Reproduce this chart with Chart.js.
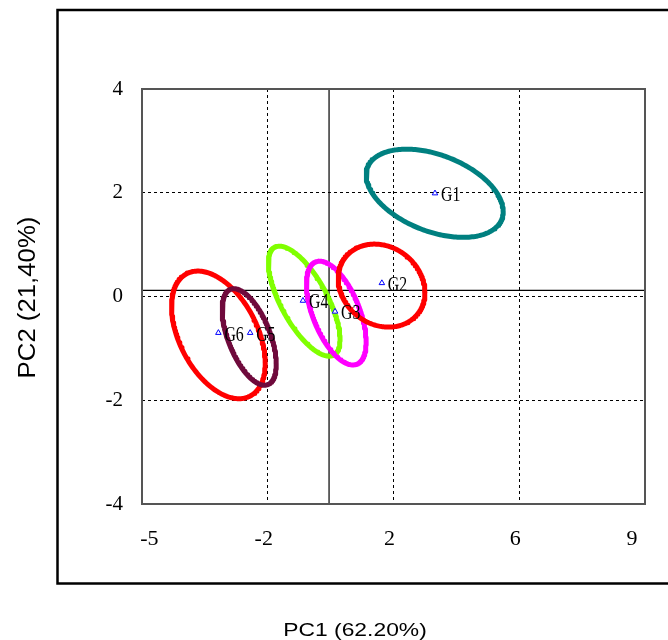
<!DOCTYPE html>
<html>
<head>
<meta charset="utf-8">
<script src="https://cdn.jsdelivr.net/npm/chart.js@4"></script>
<style>
  html, body { margin: 0; padding: 0; background: #fff; }
  canvas { display: block; }
</style>
</head>
<body>
<canvas id="pcaChart" width="668" height="640"></canvas>
<script>
// group centroids on PC1 / PC2
const groupNames = ['G1', 'G2', 'G3', 'G4', 'G5', 'G6'];
const groupPC1 = [3.32, 1.63, 0.14, -0.88, -2.56, -3.57];
const groupPC2 = [1.99, 0.26, -0.29, -0.08, -0.70, -0.70];

// confidence ellipses: centre, half width, half height, y offset of the rightmost point
const ellipseCx = [3.31, 1.62, 0.18, -0.84, -2.59, -3.57];
const ellipseCy = [1.99, 0.21, -0.32, -0.09, -0.78, -0.74];
const ellipseHalfW = [2.18, 1.38, 0.95, 1.14, 0.86, 1.49];
const ellipseHalfH = [0.85, 0.80, 1.00, 1.06, 0.93, 1.23];
const ellipseTilt = [-0.35, -0.13, -0.55, -0.73, -0.52, -0.54];
const ellipseColors = ['#008080', '#ff0000', '#ff00ff', '#80ff00', '#6f0a3c', '#ff0000'];

// axes
const xMin = -6;
const xMax = 10;
const xTickPositions = [-5.64, -2, 2, 6, 9.71];
const xTickLabels = ['-5', '-2', '2', '6', '9'];
const xGridValues = [-2, 2, 6];
const yMin = -4;
const yMax = 4;
const yTickValues = [-4, -2, 0, 2, 4];
const yTickLabels = ['-4', '-2', '0', '2', '4'];
const yGridValues = [-2, 0, 2];
const zeroLineX = -0.05;
const zeroLineY = 0.12;

const xTitle = 'PC1 (62.20%)';
const yTitle = 'PC2 (21,40%)';

const ellipseSteps = 240;

function ellipsePoints(i) {
  const pts = [];
  const m = Math.sqrt(ellipseHalfH[i] ** 2 - ellipseTilt[i] ** 2);
  for (let s = 0; s <= ellipseSteps; s++) {
    const t = (s / ellipseSteps) * Math.PI * 2;
    pts.push({
      x: ellipseCx[i] + ellipseHalfW[i] * Math.cos(t),
      y: ellipseCy[i] + ellipseTilt[i] * Math.cos(t) + m * Math.sin(t)
    });
  }
  return pts;
}

const ellipseSets = groupNames.map((name, i) => ({
  label: name + ' ellipse',
  data: ellipsePoints(i),
  showLine: true,
  borderColor: ellipseColors[i],
  borderWidth: 5,
  borderJoinStyle: 'round',
  borderCapStyle: 'round',
  pointRadius: 0,
  fill: false,
  tension: 0
}));

const centroidSet = {
  label: 'centroids',
  data: groupNames.map((n, i) => ({ x: groupPC1[i], y: groupPC2[i] })),
  pointStyle: 'triangle',
  pointRadius: 3.2,
  borderColor: '#0000ff',
  backgroundColor: '#ffffff',
  borderWidth: 1
};

const framePlugin = {
  id: 'frame',
  beforeDatasetsDraw(chart) {
    const { ctx, chartArea: a, scales } = chart;
    ctx.save();
    // solid zero lines
    ctx.strokeStyle = '#000';
    ctx.lineWidth = 1.2;
    const zx = scales.x.getPixelForValue(zeroLineX);
    const zy = scales.y.getPixelForValue(zeroLineY);
    ctx.beginPath();
    ctx.moveTo(zx, a.top);
    ctx.lineTo(zx, a.bottom);
    ctx.moveTo(a.left, zy);
    ctx.lineTo(a.right, zy);
    ctx.stroke();
    // plot frame
    ctx.strokeStyle = '#555';
    ctx.lineWidth = 2;
    ctx.strokeRect(a.left, a.top, a.right - a.left, a.bottom - a.top);
    ctx.restore();
  },
  afterDatasetsDraw(chart) {
    const { ctx, scales } = chart;
    ctx.save();
    ctx.fillStyle = '#000';
    ctx.font = '18px "Liberation Serif", serif';
    ctx.textBaseline = 'middle';
    ctx.textAlign = 'left';
    groupNames.forEach((name, i) => {
      const px = scales.x.getPixelForValue(groupPC1[i]);
      const py = scales.y.getPixelForValue(groupPC2[i]);
      ctx.save();
      ctx.translate(px + 6, py + 2.5);
      ctx.scale(0.88, 1.12);
      ctx.fillText(name, 0, 0);
      ctx.restore();
    });
    ctx.restore();
  },
  afterDraw(chart) {
    const { ctx } = chart;
    ctx.save();
    // outer box
    ctx.strokeStyle = '#000';
    ctx.lineWidth = 2.5;
    ctx.strokeRect(57.5, 10, 620, 573.5);
    // axis titles
    ctx.fillStyle = '#000';
    ctx.textAlign = 'center';
    ctx.textBaseline = 'middle';
    ctx.font = '18px "Liberation Sans", Arial, sans-serif';
    ctx.save();
    ctx.translate(355, 631);
    ctx.scale(1.27, 1);
    ctx.fillText(xTitle, 0, 0);
    ctx.restore();
    ctx.font = '23px "Liberation Sans", Arial, sans-serif';
    ctx.save();
    ctx.translate(29, 297.5);
    ctx.rotate(-Math.PI / 2);
    ctx.scale(1.12, 1);
    ctx.fillText(yTitle, 0, 0);
    ctx.restore();
    ctx.restore();
  }
};

new Chart(document.getElementById('pcaChart'), {
  type: 'scatter',
  data: { datasets: [centroidSet, ...ellipseSets] },
  options: {
    responsive: false,
    animation: false,
    layout: { padding: { top: 89, right: 23, left: 0, bottom: 0 } },
    plugins: { legend: { display: false }, tooltip: { enabled: false } },
    scales: {
      x: {
        type: 'linear',
        min: xMin,
        max: xMax,
        afterBuildTicks: (scale) => { scale.ticks = xTickPositions.map((v) => ({ value: v })); },
        afterFit: (scale) => { scale.height = 136; },
        ticks: {
          callback: (v, i) => xTickLabels[i],
          color: '#000',
          font: { family: '"Liberation Serif", serif', size: 22 },
          padding: 22,
          labelOffset: -4,
          maxRotation: 0,
          autoSkip: false
        },
        grid: {
          drawTicks: false,
          lineWidth: 1,
          color: (c) => (c.tick && xGridValues.includes(c.tick.value) ? '#000' : 'rgba(0,0,0,0)')
        },
        border: { display: false, dash: [3, 3] }
      },
      y: {
        type: 'linear',
        min: yMin,
        max: yMax,
        afterBuildTicks: (scale) => { scale.ticks = yTickValues.map((v) => ({ value: v })); },
        afterFit: (scale) => { scale.width = 142; },
        ticks: {
          callback: (v, i) => yTickLabels[i],
          color: '#000',
          font: { family: '"Liberation Serif", serif', size: 21 },
          padding: 19
        },
        grid: {
          drawTicks: false,
          lineWidth: 1,
          color: (c) => (c.tick && yGridValues.includes(c.tick.value) ? '#000' : 'rgba(0,0,0,0)')
        },
        border: { display: false, dash: [3, 3] }
      }
    }
  },
  plugins: [framePlugin]
});
</script>
</body>
</html>
